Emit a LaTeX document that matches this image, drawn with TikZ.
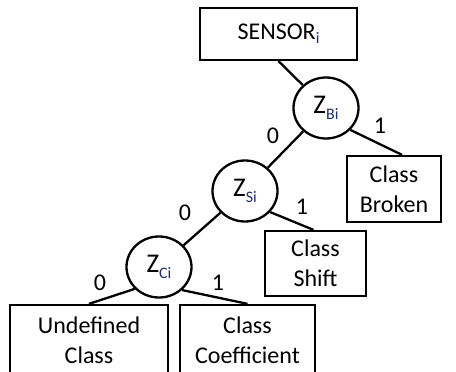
\documentclass[tikz,border=0pt]{standalone}
\usepackage{fontspec}
\setmainfont{Carlito}
\usetikzlibrary{shapes.geometric}
\definecolor{subblue}{RGB}{30,45,115}
\newcommand{\subtxt}[2]{\raisebox{-#2}{\fontsize{16}{16}\selectfont\color{subblue}#1}}
\tikzset{
  every node/.style={font=\fontsize{24}{30}\selectfont},
  box/.style={draw, line width=2.3pt, fill=white, rectangle, align=center, inner sep=0pt},
  var/.style={draw, line width=2.3pt, fill=white, ellipse, minimum width=65pt, minimum height=61pt, inner sep=0pt, font=\fontsize{27}{30}\selectfont},
  edge/.style={line width=2.3pt},
  bit/.style={inner sep=0pt}
}
\begin{document}
\begin{tikzpicture}[x=1pt,y=-1pt]
  \useasboundingbox (0,0) rectangle (456,372);
  \clip (0,0) rectangle (456,372);
  % root and decision variables
  \node[box, minimum width=157pt, minimum height=52pt] (sensor) at (278.5,34) {SENSOR\subtxt{i}{4pt}};
  \node[var] (zb) at (326,108) {Z\subtxt{Bi}{6pt}};
  \node[var] (zs) at (245,191) {Z\subtxt{Si}{6pt}};
  \node[var] (zc) at (159,267) {Z\subtxt{Ci}{6pt}};
  % leaf classes
  \node[box, minimum width=94pt, minimum height=66pt] (broken) at (394,189) {Class\\Broken};
  \node[box, minimum width=101pt, minimum height=65pt] (shift) at (315.5,263.5) {Class\\Shift};
  \node[box, minimum width=158pt, minimum height=70pt] (undef) at (89,340) {Undefined\\Class};
  \node[box, minimum width=135pt, minimum height=70pt] (coeff) at (247.5,340) {Class\\Coefficient};
  % branches
  \draw[edge] (sensor.south) -- (zb);
  \draw[edge] (zb) -- (zs);
  \draw[edge] (zb.-42) -- ([xshift=8pt]broken.north);
  \draw[edge] (zs) -- (zc);
  \draw[edge] (zs.-40) -- ([xshift=-2pt]shift.north);
  \draw[edge] (zc.-138) -- (undef.north);
  \draw[edge] (zc.-45) -- (coeff.north);
  % branch values
  \node[bit] (b1) at (273,136) {0};
  \node[bit] (b2) at (380,126) {1};
  \node[bit] (b3) at (185,213) {0};
  \node[bit] (b4) at (302,207) {1};
  \node[bit] (b5) at (100,283) {0};
  \node[bit] (b6) at (218,283) {1};
\end{tikzpicture}
\end{document}
